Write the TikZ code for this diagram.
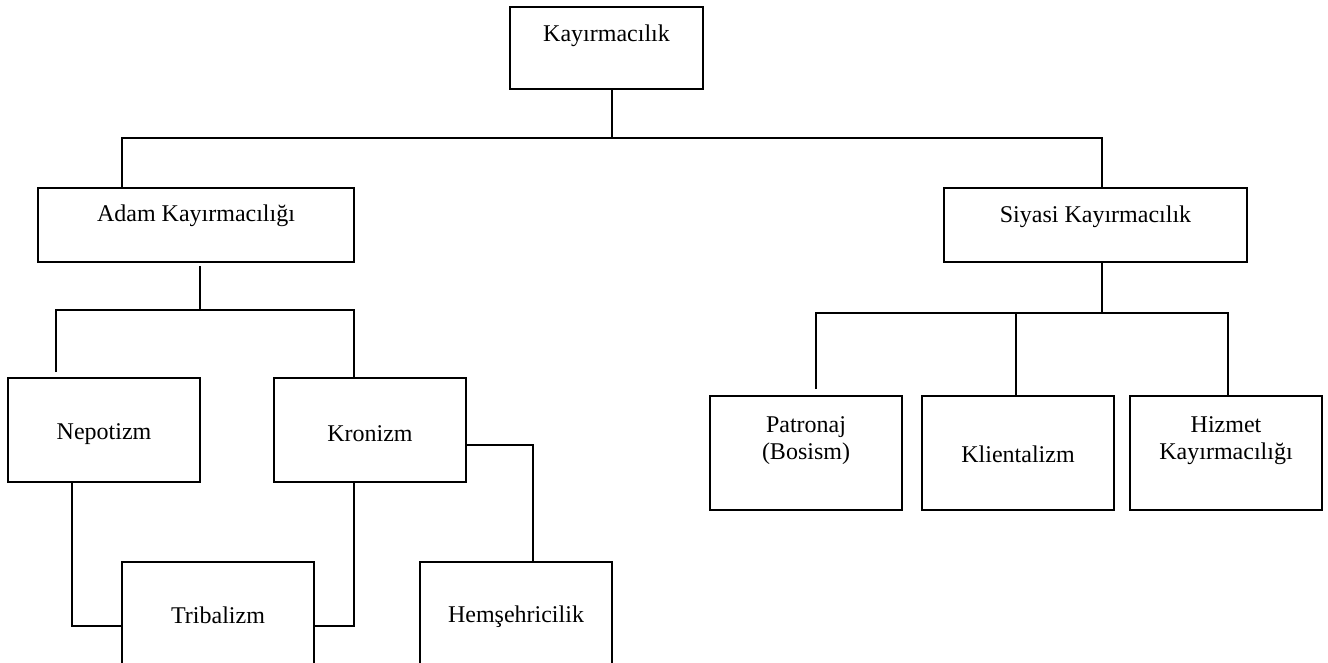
\documentclass[tikz,border=0pt]{standalone}
\usepackage{fontspec}
\setmainfont{Liberation Serif}
\begin{document}
\begin{tikzpicture}[x=0.5pt,y=-0.5pt,
  box/.style={draw=black,line width=1pt,rectangle,inner sep=0pt,fill=none},
  txt/.style={inner sep=0pt,align=center,font=\fontsize{12pt}{13.5pt}\selectfont},
  conn/.style={draw=black,line width=1pt}]
\clip (0,0) rectangle (1328,663);
\fill[white] (0,0) rectangle (1328,663);
% boxes
\node[box,minimum width=96.5pt,minimum height=41pt] (kay) at (606.5,48) {};
\node[box,minimum width=158pt,minimum height=37pt] (adam) at (196,225) {};
\node[box,minimum width=151.5pt,minimum height=37pt] (siy) at (1095.5,225) {};
\node[box,minimum width=96pt,minimum height=52pt] (nep) at (104,430) {};
\node[box,minimum width=96pt,minimum height=52pt] (kro) at (370,430) {};
\node[box,minimum width=96pt,minimum height=70pt,anchor=north] (tri) at (218,561) {};
\node[box,minimum width=96pt,minimum height=70pt,anchor=north] (hem) at (516,561) {};
\node[box,minimum width=96pt,minimum height=57pt] (pat) at (806,453) {};
\node[box,minimum width=96pt,minimum height=57pt] (kli) at (1018,453) {};
\node[box,minimum width=96pt,minimum height=57pt] (hiz) at (1226,453) {};
% texts
\node[txt] (tkay) at (606.5,35.5) {Kayırmacılık};
\node[txt] (tadam) at (196,215.5) {Adam Kayırmacılığı};
\node[txt] (tsiy) at (1095.5,216.5) {Siyasi Kayırmacılık};
\node[txt] (tnep) at (104,434) {Nepotizm};
\node[txt] (tkro) at (370,433.5) {Kronizm};
\node[txt] (ttri) at (218,615) {Tribalizm};
\node[txt] (them) at (516,616.5) {Hemşehricilik};
\node[txt] (tpat) at (806,441) {Patronaj\\(Bosism)};
\node[txt] (tkli) at (1018,454) {Klientalizm};
\node[txt] (thiz) at (1226,441) {Hizmet\\Kayırmacılığı};
% junction coordinates
\coordinate (j1) at (612,138);
\coordinate (jl) at (122,138);
\coordinate (jr) at (1102,138);
\coordinate (a1) at (200,310);
\coordinate (al) at (56,310);
\coordinate (ar) at (354,310);
\coordinate (t1) at (72,626);
\coordinate (t2) at (354,626);
\coordinate (h1) at (533,445);
\coordinate (s1) at (1102,313);
\coordinate (sl) at (816,313);
\coordinate (sm) at (1016,313);
\coordinate (sr) at (1228,313);
% connectors
\draw[conn] (kay.south -| j1) -- (j1);
\draw[conn] (adam.north -| jl) -- (jl) -- (jr) -- (siy.north -| jr);
\draw[conn] ([yshift=-1.5pt]adam.south -| a1) -- (a1);
\draw[conn] ([yshift=2.5pt]nep.north -| al) -- (al) -- (ar) -- (kro.north -| ar);
\draw[conn] (nep.south -| t1) -- (t1) -- (t1 -| tri.west);
\draw[conn] (kro.south -| t2) -- (t2) -- (t2 -| tri.east);
\draw[conn] (kro.east |- h1) -- (h1) -- (hem.north -| h1);
\draw[conn] (siy.south -| s1) -- (s1);
\draw[conn] ([yshift=3pt]pat.north -| sl) -- (sl) -- (sr) -- (hiz.north -| sr);
\draw[conn] (sm) -- (kli.north -| sm);
\end{tikzpicture}
\end{document}
